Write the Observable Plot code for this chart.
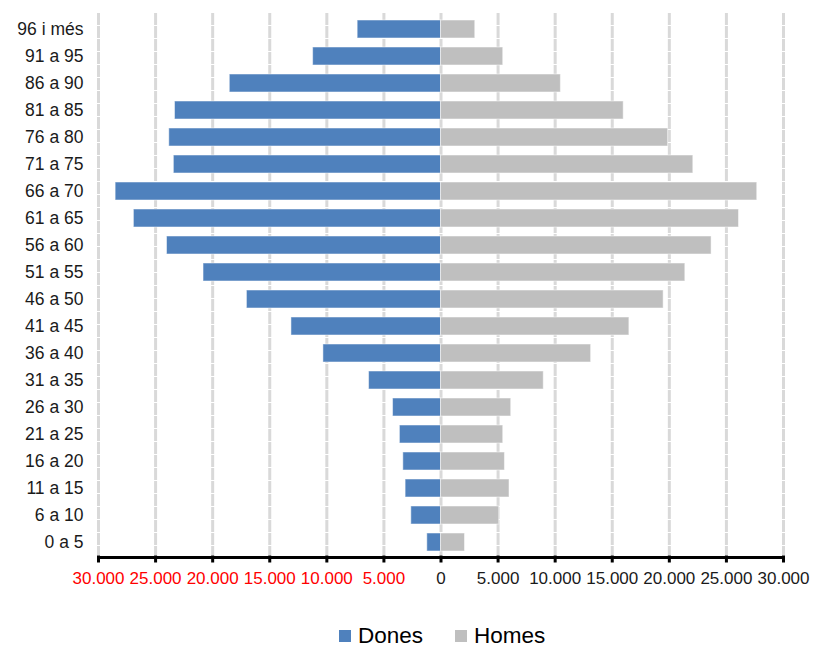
<!DOCTYPE html>
<html><head><meta charset="utf-8">
<script src="https://cdn.jsdelivr.net/npm/d3@7"></script>
<script src="https://cdn.jsdelivr.net/npm/@observablehq/plot@0.6"></script>
<style>
html,body{margin:0;background:#fff;font-family:"Liberation Sans",Arial,sans-serif;overflow:hidden}
#chart svg{display:block}
#legend{position:relative;height:50px}
.item{position:absolute;top:25px;height:22px;line-height:22px;display:flex;align-items:center;font-size:22.5px;color:#000;white-space:nowrap}
.sw{width:12px;height:12px;margin-right:7px;flex:none}
</style>
</head><body>
<div id="chart"></div>
<div id="legend"></div>
<script>
const ageGroups = ["96 i més","91 a 95","86 a 90","81 a 85","76 a 80","71 a 75","66 a 70","61 a 65","56 a 60","51 a 55","46 a 50","41 a 45","36 a 40","31 a 35","26 a 30","21 a 25","16 a 20","11 a 15","6 a 10","0 a 5"];
const dones = [7300,11200,18500,23300,23800,23400,28500,26900,24000,20800,17000,13100,10300,6300,4200,3600,3300,3100,2600,1200];
const homes = [3000,5450,10500,16000,19900,22100,27700,26100,23700,21400,19500,16500,13150,9000,6150,5450,5600,6000,5100,2100];
const xTicks = [-30000,-25000,-20000,-15000,-10000,-5000,0,5000,10000,15000,20000,25000,30000];
const seriesNames = ["Dones","Homes"];
const seriesColors = ["#4f81bd","#bfbfbf"];

const rows = ageGroups.map((g,i)=>({group:g, dones:dones[i], homes:homes[i]}));
const loc = d3.formatLocale({decimal:",", thousands:".", grouping:[3], currency:["",""]});
const fmt = d => loc.format(",")(Math.abs(d));

const chart = Plot.plot({
  width: 813,
  height: 600,
  marginLeft: 98,
  marginRight: 30,
  marginTop: 15.5,
  marginBottom: 44.5,
  style: {fontFamily: '"Liberation Sans", Arial, sans-serif', background: "#fff"},
  x: {domain: [-30000, 30000]},
  y: {domain: ageGroups, paddingInner: 0.34, paddingOuter: 0.17},
  marks: [
    Plot.ruleX(xTicks, {stroke: "#d9d9d9", strokeWidth: 3, strokeDasharray: "12,1", insetTop: -2.5}),
    Plot.barX(rows, {y: "group", x1: 0, x2: d => -d.dones, fill: seriesColors[0], stroke: "#fff", strokeOpacity: 0.5, strokeWidth: 1}),
    Plot.barX(rows, {y: "group", x1: 0, x2: d => d.homes, fill: seriesColors[1], stroke: "#fff", strokeOpacity: 0.5, strokeWidth: 1}),
    Plot.frame({anchor: "bottom", stroke: "#000", strokeWidth: 3, insetBottom: -1.5}),
    Plot.axisX({ticks: xTicks.filter(d => d < 0), tickFormat: fmt, tickSize: 7, tickPadding: 9, fontSize: 17, stroke: "#000", strokeWidth: 3, fill: "#ff0000", label: null}),
    Plot.axisX({ticks: xTicks.filter(d => d >= 0), tickFormat: fmt, tickSize: 7, tickPadding: 9, fontSize: 17, stroke: "#000", strokeWidth: 3, fill: "#1a1a1a", label: null}),
    Plot.axisY({tickSize: 0, tickPadding: 15, fontSize: 17.5, fill: "#1a1a1a", label: null})
  ]
});
document.getElementById("chart").appendChild(chart);

const leg = document.getElementById("legend");
const lefts = [339, 455];
seriesNames.forEach((n,i)=>{
  const it = document.createElement("div");
  it.className = "item";
  it.style.left = lefts[i] + "px";
  it.innerHTML = `<span class="sw" style="background:${seriesColors[i]}"></span><span>${n}</span>`;
  leg.appendChild(it);
});
</script>
</body></html>
